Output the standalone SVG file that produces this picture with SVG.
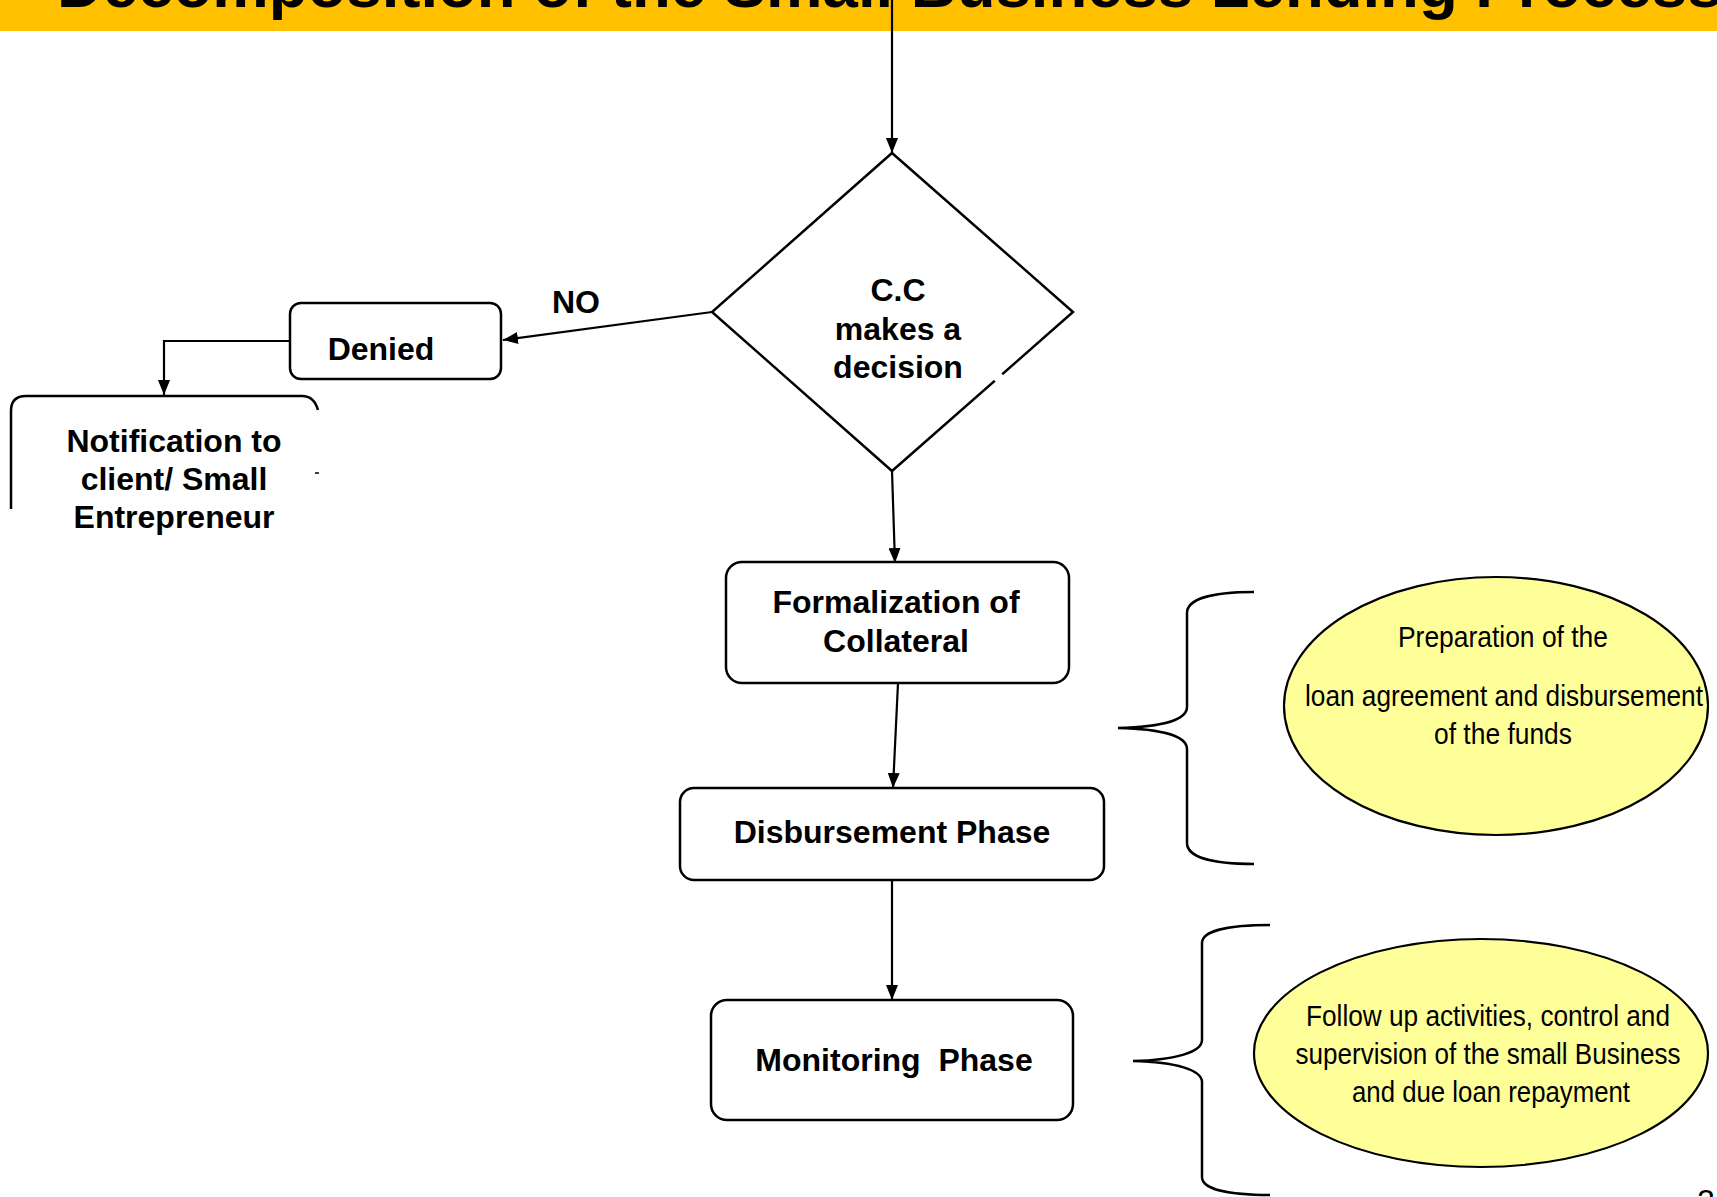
<svg xmlns="http://www.w3.org/2000/svg" width="1717" height="1197" viewBox="0 0 1717 1197">
<style>
.box{fill:#fff;stroke:#000;stroke-width:2.5}
.b{font-family:"Liberation Sans",Arial,sans-serif;font-weight:bold;font-size:32px;fill:#000;text-anchor:middle}
.n{font-family:"Liberation Sans Narrow","Arial Narrow","Liberation Sans",sans-serif;font-size:30px;fill:#000;text-anchor:middle}
.ell{fill:#FFFF99;stroke:#000;stroke-width:2.2}
.con{fill:none;stroke:#000;stroke-width:2.2}
.brace{fill:none;stroke:#000;stroke-width:2.5}
</style>
<defs>
<marker id="ah" viewBox="0 0 15 12" refX="15" refY="6" markerWidth="15" markerHeight="12" markerUnits="userSpaceOnUse" orient="auto">
<path d="M0,0 L15,6 L0,12 Z" fill="#000"/>
</marker>
</defs>
<rect width="1717" height="1197" fill="#fff"/>
<g id="title">
<rect x="0" y="0" width="1717" height="31" fill="#FFC000"/>
<text x="57" y="7" font-family="Liberation Sans,Arial,sans-serif" font-weight="bold" font-size="63.5" fill="#000">Decomposition of the Small Business Lending Process</text>
</g>
<g id="decision">
<polygon points="892,153 1073,312 892,471 712,312" class="box" stroke-width="2.2"/>
<line x1="995" y1="381" x2="1002" y2="374" stroke="#fff" stroke-width="4"/>
<text class="b" x="898" y="301">C.C</text>
<text class="b" x="898" y="340">makes a</text>
<text class="b" x="898" y="378">decision</text>
</g>
<g id="denied">
<rect x="290" y="303" width="211" height="76" rx="11" class="box"/>
<text class="b" x="381" y="360">Denied</text>
</g>
<g id="no-label">
<text class="b" x="576" y="313" font-size="30">NO</text>
</g>
<g id="notification">
<path d="M11,509 L11,411 Q11,396 26,396 L302,396 Q314,396 318,410" class="box" fill="none"/>
<line x1="315" y1="473" x2="319" y2="473" stroke="#000" stroke-width="1.5"/>
<text class="b" x="174" y="452">Notification to</text>
<text class="b" x="174" y="490">client/ Small</text>
<text class="b" x="174" y="528">Entrepreneur</text>
</g>
<g id="formalization">
<rect x="726" y="562" width="343" height="121" rx="16" class="box"/>
<text class="b" x="896" y="613">Formalization of</text>
<text class="b" x="896" y="652">Collateral</text>
</g>
<g id="disbursement">
<rect x="680" y="788" width="424" height="92" rx="14" class="box"/>
<text class="b" x="892" y="843">Disbursement Phase</text>
</g>
<g id="monitoring">
<rect x="711" y="1000" width="362" height="120" rx="16" class="box"/>
<text class="b" x="894" y="1071" xml:space="preserve">Monitoring  Phase</text>
</g>
<g id="note-disbursement">
<ellipse cx="1496" cy="706" rx="212" ry="129" class="ell"/>
<text class="n" x="1503" y="647" textLength="210" lengthAdjust="spacingAndGlyphs">Preparation of the</text>
<text class="n" x="1504" y="706" textLength="398" lengthAdjust="spacingAndGlyphs">loan agreement and disbursement</text>
<text class="n" x="1503" y="744" textLength="138" lengthAdjust="spacingAndGlyphs">of the funds</text>
</g>
<g id="note-monitoring">
<ellipse cx="1481" cy="1053" rx="227" ry="114" class="ell"/>
<text class="n" x="1488" y="1026" textLength="364" lengthAdjust="spacingAndGlyphs">Follow up activities, control and</text>
<text class="n" x="1488" y="1064" textLength="385" lengthAdjust="spacingAndGlyphs">supervision of the small Business</text>
<text class="n" x="1491" y="1102" textLength="278" lengthAdjust="spacingAndGlyphs">and due loan repayment</text>
</g>
<g id="braces">
<path class="brace" d="M1254,592 C1212,592 1187,599 1187,613 L1187,707 C1187,720 1162,727 1118,728 C1162,729 1187,736 1187,749 L1187,843 C1187,857 1212,864 1254,864"/>
<path class="brace" d="M1270,925 C1228,925 1202,931 1202,943 L1202,1040 C1202,1052 1176,1060 1133,1061 C1176,1062 1202,1070 1202,1082 L1202,1177 C1202,1189 1228,1195 1270,1195"/>
</g>
<g id="connectors">
<line class="con" x1="892" y1="0" x2="892" y2="153" marker-end="url(#ah)"/>
<line class="con" x1="712" y1="312" x2="503" y2="340" marker-end="url(#ah)"/>
<polyline class="con" points="290,341 164,341 164,395" marker-end="url(#ah)"/>
<line class="con" x1="892" y1="471" x2="895" y2="563" marker-end="url(#ah)"/>
<line class="con" x1="898" y1="683" x2="893" y2="788" marker-end="url(#ah)"/>
<line class="con" x1="892" y1="880" x2="892" y2="1000" marker-end="url(#ah)"/>
</g>
<g id="page-number">
<text x="1697" y="1212" font-family="Liberation Sans Narrow,Liberation Sans,sans-serif" font-size="32" fill="#000">2</text>
</g>
</svg>
